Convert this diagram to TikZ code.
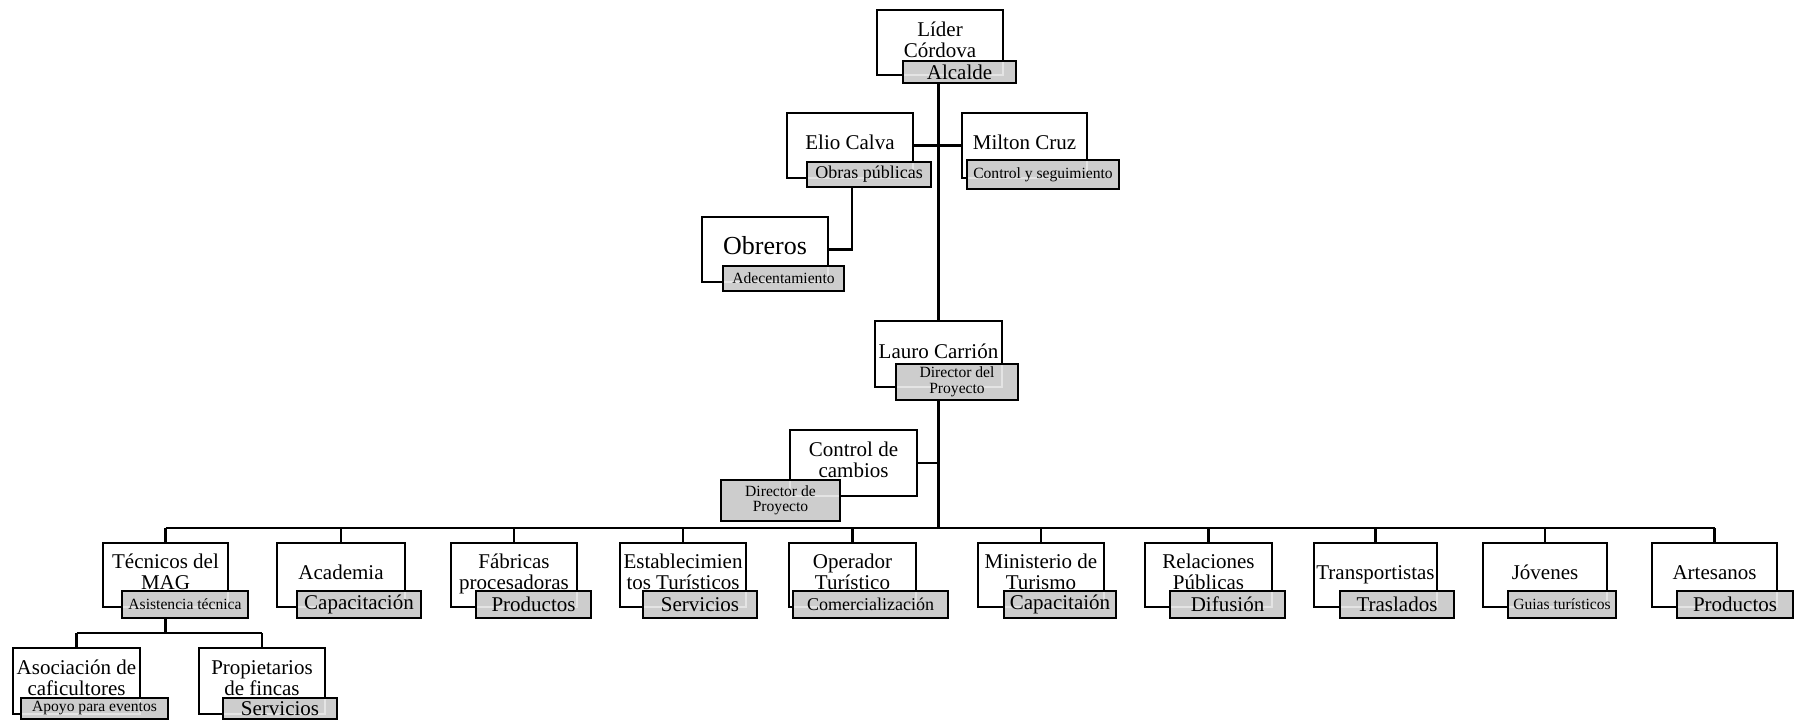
\documentclass[tikz,border=0pt]{standalone}
\usepackage{fontspec}
\setmainfont{Liberation Serif}
\definecolor{subgray}{RGB}{205,205,205}
\definecolor{ghostgray}{RGB}{228,228,228}
\newcommand\fA{\fontsize{15.75}{15.75}\selectfont}
\newcommand\fB{\fontsize{13.5}{14}\selectfont}
\newcommand\fC{\fontsize{11.7}{11.6}\selectfont}
\newcommand\fD{\fontsize{19.5}{19.5}\selectfont}
\tikzset{
  mainbox/.style={draw, line width=1.5pt, fill=white, rectangle, inner sep=0pt, font=\fA},
  subbox/.style={draw, line width=1.5pt, fill=subgray, rectangle, inner sep=0pt, align=center, font=\fA},
  ghostline/.style={draw=ghostgray, line width=1.5pt},
  ghost/.style={path picture={\draw[ghostline] ([shift={(0.75pt,0.75pt)}]#1.south west) rectangle ([shift={(-0.75pt,-0.75pt)}]#1.north east);}},
  conn/.style={line width=1.6pt},
}
\newcommand\boxat[7]{\node[#6, minimum width={(#4-#2)*0.75pt}, minimum height={(#5-#3)*0.75pt}] (#1) at ({(#2+#4)/2},{(#3+#5)/2}) {#7};}
\newcommand\mainat[7]{\boxat{#1}{#2}{#3}{#4}{#5}{#6}{\begin{tabular}{@{}c@{}}#7\end{tabular}}}
\begin{document}
\begin{tikzpicture}[x=0.75pt, y=-0.75pt]
\useasboundingbox (0,0) rectangle (1795,720);
% top part
\mainat{lider}{877}{10}{1003}{75}{mainbox}{Líder\\Córdova}
\boxat{alcalde}{903}{61}{1016}{83}{subbox,ghost=lider}{Alcalde}
\mainat{elio}{787}{113}{913}{178}{mainbox}{Elio Calva}
\boxat{obras}{807}{162}{931}{187}{subbox,font=\fB,ghost=elio}{Obras públicas}
\mainat{milton}{962}{113}{1087}{178}{mainbox}{Milton Cruz}
\boxat{control}{967}{160}{1119}{189}{subbox,font=\fC,ghost=milton}{Control y seguimiento}
\mainat{obreros}{702}{217}{828}{282}{mainbox,font=\fD}{Obreros}
\boxat{adec}{723}{266}{844}{291}{subbox,font=\fC,ghost=obreros}{Adecentamiento}
\mainat{lauro}{875}{321}{1002}{387}{mainbox}{Lauro Carrión}
\boxat{dirproy}{896}{364}{1018}{400}{subbox,font=\fC,ghost=lauro}{Director del\\Proyecto}
\mainat{ccambios}{790}{430}{917}{496}{mainbox}{Control de\\cambios}
\boxat{dirp}{721}{480}{840}{521}{subbox,font=\fC,ghost=ccambios}{Director de\\Proyecto}
% bottom row
\mainat{tec}{103}{543}{228}{607}{mainbox}{Técnicos del\\MAG}
\boxat{asist}{122}{591}{248}{618}{subbox,font=\fC,ghost=tec}{Asistencia técnica}
\mainat{acad}{277}{543}{405}{607}{mainbox}{Academia}
\boxat{capa}{297}{591}{421}{618}{subbox,ghost=acad}{Capacitación}
\mainat{fab}{451}{543}{577}{607}{mainbox}{Fábricas\\procesadoras}
\boxat{prod}{476}{591}{591}{618}{subbox,ghost=fab}{Productos}
\mainat{est}{620}{543}{746}{607}{mainbox}{Establecimien\\tos Turísticos}
\boxat{serv}{643}{591}{757}{618}{subbox,ghost=est}{Servicios}
\mainat{ope}{789}{543}{916}{607}{mainbox}{Operador\\Turístico}
\boxat{come}{793}{591}{948}{618}{subbox,font=\fB,ghost=ope}{Comercialización}
\mainat{min}{978}{543}{1104}{607}{mainbox}{Ministerio de\\Turismo}
\boxat{capb}{1004}{591}{1116}{618}{subbox,ghost=min}{Capacitaión}
\mainat{rel}{1145}{543}{1272}{607}{mainbox}{Relaciones\\Públicas}
\boxat{dif}{1170}{591}{1285}{618}{subbox,ghost=rel}{Difusión}
\mainat{tra}{1314}{543}{1437}{607}{mainbox}{Transportistas}
\boxat{tras}{1340}{591}{1454}{618}{subbox,ghost=tra}{Traslados}
\mainat{jov}{1483}{543}{1607}{607}{mainbox}{Jóvenes}
\boxat{guia}{1508}{591}{1616}{618}{subbox,font=\fC,ghost=jov}{Guias turísticos}
\mainat{art}{1652}{543}{1777}{607}{mainbox}{Artesanos}
\boxat{prodb}{1677}{591}{1793}{618}{subbox,ghost=art}{Productos}
% MAG subtree
\mainat{aso}{13}{648}{140}{714}{mainbox}{Asociación de\\caficultores}
\boxat{apoyo}{21}{698}{168}{719}{subbox,font=\fC,ghost=aso}{Apoyo para eventos}
\mainat{prop}{199}{648}{325}{714}{mainbox}{Propietarios\\de fincas}
\boxat{servb}{223}{698}{337}{719}{subbox,ghost=prop}{Servicios}
% connectors
\coordinate (busy) at (0,528);
\coordinate (suby) at (0,633);
\draw[conn] (alcalde.south -| lauro.north) -- (lauro.north);
\draw[conn] (elio.east) -- (milton.west);
\draw[conn] (obreros.east) -- ++(23,0) coordinate (k1) -- (k1 |- obras.south);
\draw[conn] (dirproy.south -| lauro.north) -- (lauro.north |- busy);
\draw[conn] (ccambios.east) -- (ccambios.east -| lauro.north);
\draw[conn] (tec.north |- busy) -- (art.north |- busy);
\foreach \n in {tec,acad,fab,est,ope,min,rel,tra,jov,art}
  \draw[conn] (\n.north) -- (\n.north |- busy);
\draw[conn] (asist.south -| tec.north) -- (tec.north |- suby);
\draw[conn] (aso.north |- suby) -- (prop.north |- suby);
\draw[conn] (aso.north) -- (aso.north |- suby);
\draw[conn] (prop.north) -- (prop.north |- suby);
\end{tikzpicture}
\end{document}
